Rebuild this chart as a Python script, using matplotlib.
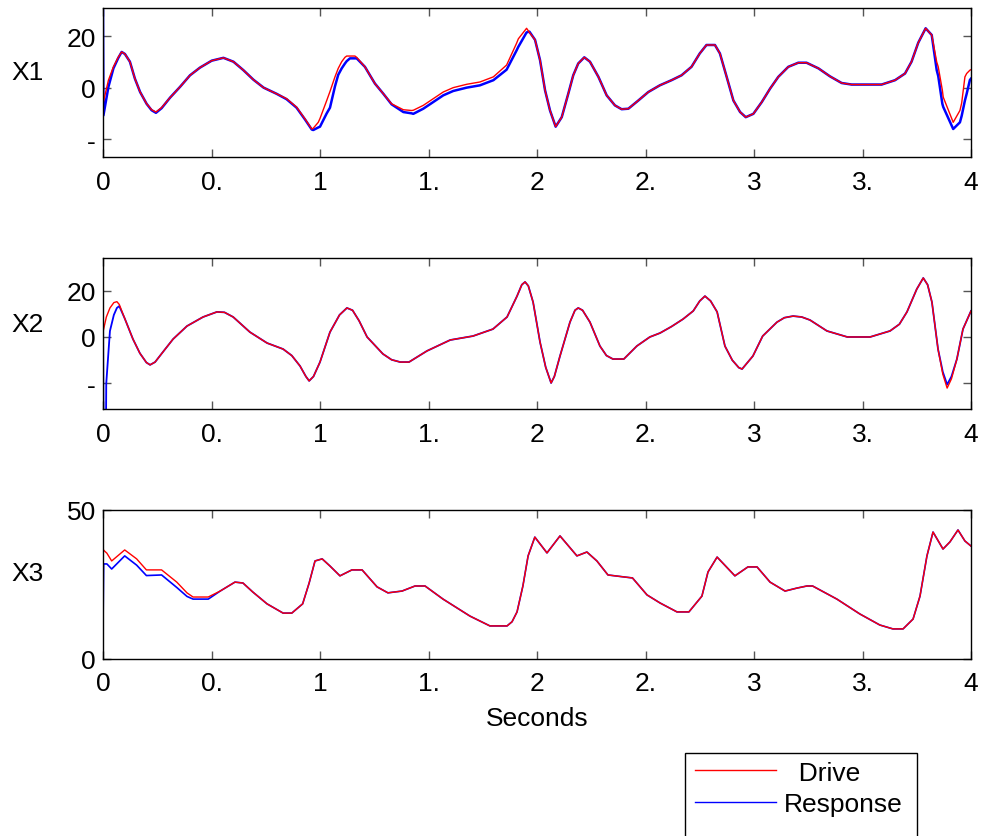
import matplotlib
matplotlib.use('Agg')
import matplotlib.pyplot as plt
from matplotlib.patches import Rectangle
from matplotlib.lines import Line2D

plt.rcParams['font.family'] = ['Liberation Sans', 'DejaVu Sans']
plt.rcParams['font.size'] = 19

# X1 : drive (red) y respuesta (blue)
t1 = [0, 0.002, 0.025, 0.048, 0.07, 0.086, 0.101, 0.124, 0.147, 0.171, 0.201,
      0.224, 0.244, 0.27, 0.309, 0.355, 0.401, 0.447, 0.501, 0.555, 0.601,
      0.647, 0.693, 0.74, 0.8, 0.846, 0.892, 0.931, 0.962, 0.969, 0.992, 1.0,
      1.031, 1.046, 1.069, 1.084, 1.1, 1.115, 1.123, 1.138, 1.161, 1.169,
      1.207, 1.253, 1.292, 1.33, 1.384, 1.422, 1.43, 1.476, 1.522, 1.568,
      1.614, 1.676, 1.737, 1.799, 1.86, 1.906, 1.914, 1.952, 1.965, 1.991,
      2.014, 2.037, 2.06, 2.086, 2.114, 2.144, 2.167, 2.19, 2.218, 2.244,
      2.283, 2.321, 2.359, 2.39, 2.421, 2.467, 2.513, 2.566, 2.62, 2.666,
      2.712, 2.75, 2.781, 2.82, 2.843, 2.874, 2.905, 2.936, 2.962, 2.997,
      3.036, 3.074, 3.112, 3.158, 3.204, 3.242, 3.297, 3.35, 3.404, 3.45,
      3.588, 3.65, 3.696, 3.726, 3.757, 3.791, 3.819, 3.842, 3.849, 3.868,
      3.872, 3.918, 3.949, 3.957, 3.972, 3.98, 3.995, 4.0]
x1_drive = [-6, -5.5, 2.9, 8.1, 11.8, 13.9, 13.1, 10.1, 3.5, -1.7, -6.3,
            -8.6, -9.5, -7.8, -3.9, 0.3, 4.8, 7.8, 10.5, 11.6, 10.1,
            6.8, 3.1, 0, -2.4, -4.3, -7.6, -12.2, -16.1, -15.8, -13.5, -12,
            -5, -1.5, 4.2, 7.5, 10.1, 11.8, 12.3, 12.3, 12.3, 11.8,
            8.1, 1.6, -2.4, -6.3, -8.6, -8.9, -8.8, -6.9, -4.3, -1.7,
            0, 1.3, 2.2, 4.2, 8.8, 17.3, 19, 23.1, 21.5, 18.6,
            10.7, -1, -8.9, -15.2, -11.5, -2.4, 4.8, 9.4, 11.8, 10.1,
            4.2, -3, -6.9, -8.4, -8.2, -5, -1.7, 0.9, 2.9, 4.8,
            8.1, 13.3, 16.6, 16.6, 13.3, 4.2, -5, -9.5, -11.5, -10.2,
            -5.6, -0.4, 4.2, 8.1, 9.7, 9.7, 7.5, 4.4, 1.8, 1.2,
            1.2, 2.9, 5.5, 10.1, 17.5, 23.1, 20.5, 10, 8.1, -1,
            -3.7, -13.5, -8.9, -6, 4.2, 5.5, 6.8, 7.0]
x1_resp = [30, -10.8, 0.3, 7.5, 11.5, 13.9, 13.1, 10.1, 3.5, -1.7, -6.3,
           -8.8, -9.8, -8.0, -3.9, 0.3, 4.8, 7.8, 10.5, 11.6, 10.1,
           6.8, 3.1, 0, -2.4, -4.5, -7.8, -12.4, -16.3, -16.5, -15.5, -15.2,
           -10, -7.8, 0.5, 5, 7.5, 9.4, 10.3, 11.4, 11.4, 11.4,
           8.1, 1.6, -2.4, -6.5, -9.5, -10.0, -10.2, -8.2, -5.6, -3.0,
           -1.3, 0, 0.9, 2.9, 7.0, 14.5, 15.9, 21.5, 21.8, 18.6,
           10.7, -1, -8.9, -15.2, -11.5, -2.4, 4.8, 9.4, 11.8, 10.1,
           4.2, -3, -6.9, -8.4, -8.2, -5, -1.7, 0.9, 2.9, 4.8,
           8.1, 13.3, 16.6, 16.6, 13.3, 4.2, -5, -9.5, -11.5, -10.2,
           -5.6, -0.4, 4.2, 8.1, 9.7, 9.7, 7.5, 4.4, 1.8, 1.2,
           1.2, 2.9, 5.5, 10.1, 17.5, 23.1, 20.5, 6.8, 4.5, -6.3,
           -7.5, -16.1, -13.5, -11, -5, -2.4, 3.0, 3.5]

# X2
t2 = [0, 0.002, 0.014, 0.015, 0.032, 0.05, 0.064, 0.075, 0.1, 0.138, 0.17,
      0.2, 0.217, 0.24, 0.28, 0.323, 0.387, 0.461, 0.525, 0.56, 0.6, 0.677,
      0.756, 0.83, 0.87, 0.908, 0.935, 0.95, 0.97, 1.0, 1.046, 1.09, 1.124,
      1.15, 1.18, 1.217, 1.29, 1.33, 1.37, 1.41, 1.493, 1.6, 1.705, 1.797,
      1.862, 1.908, 1.93, 1.945, 1.96, 1.982, 2.014, 2.04, 2.065, 2.08, 2.106,
      2.152, 2.175, 2.19, 2.21, 2.244, 2.29, 2.32, 2.35, 2.40, 2.46, 2.52,
      2.567, 2.62, 2.673, 2.72, 2.75, 2.774, 2.8, 2.83, 2.866, 2.9, 2.93,
      2.945, 2.995, 3.04, 3.106, 3.14, 3.18, 3.22, 3.258, 3.336, 3.43, 3.535,
      3.627, 3.67, 3.705, 3.75, 3.78, 3.8, 3.82, 3.848, 3.87, 3.89, 3.91,
      3.935, 3.963, 4.0]
x2_drive = [2.1, 3, 8, 8.5, 12.5, 14.8, 15.2, 14, 8, -0.9, -7,
            -11, -12, -10.8, -6, -0.9, 4.7, 8.6, 10.8, 10.6, 8.6, 2.1,
            -2.6, -5.2, -8, -12.5, -17, -18.9, -17, -10.8, 2.1, 9.5, 12.5,
            11.5, 7, 0, -7.3, -9.8, -10.8, -10.8, -6, -1.3, 0.4, 3.4,
            8.6, 17.6, 22.5, 23.7, 22, 15, -2.2, -13, -19.8, -17, -8.2,
            6.4, 11.5, 12.5, 11.5, 6.4, -3.9, -8, -9.5, -9.5, -3.9, 0,
            1.7, 4.5, 7.7, 11.2, 15.5, 17.6, 15.5, 10.8, -3.9, -10, -13.2,
            -13.8, -8.2, 0.4, 6.4, 8.3, 9.0, 8.6, 7.3, 2.6, 0, 0,
            2.6, 5.5, 10.8, 20.6, 25.4, 22.5, 15, -5.2, -16, -22, -18,
            -9.5, 3.4, 11.2]
x2_resp = [19.4, -35, -35, -20, 2.6, 9.5, 12.5, 13.3, 8, -0.9, -7,
           -11, -12, -10.8, -6, -0.9, 4.7, 8.6, 10.8, 10.6, 8.6, 2.1,
           -2.6, -5.2, -8, -12.5, -17, -18.9, -17, -10.8, 2.1, 9.5, 12.5,
           11.5, 7, 0, -7.3, -9.8, -10.8, -10.8, -6, -1.3, 0.4, 3.4,
           8.6, 17.6, 22.5, 23.7, 22, 15, -2.2, -13, -19.8, -17, -8.2,
           6.4, 11.5, 12.5, 11.5, 6.4, -3.9, -8, -9.5, -9.5, -3.9, 0,
           1.7, 4.5, 7.7, 11.2, 15.5, 17.6, 15.5, 10.8, -3.9, -10, -13.2,
           -13.8, -8.2, 0.4, 6.4, 8.3, 9.0, 8.6, 7.3, 2.6, 0, 0,
           2.6, 5.5, 10.8, 20.6, 25.4, 22.5, 15, -5.2, -15, -20.5, -17,
           -9.5, 3.4, 11.2]

# X3
t3 = [0, 0.003, 0.018, 0.04, 0.1, 0.155, 0.2, 0.27, 0.34, 0.387, 0.415, 0.485,
      0.54, 0.608, 0.645, 0.69, 0.756, 0.83, 0.87, 0.92, 0.95, 0.977, 1.01,
      1.046, 1.092, 1.147, 1.194, 1.263, 1.313, 1.378, 1.438, 1.484, 1.567,
      1.691, 1.783, 1.862, 1.885, 1.908, 1.935, 1.959, 1.99, 2.046, 2.106,
      2.184, 2.23, 2.276, 2.327, 2.405, 2.44, 2.507, 2.567, 2.645, 2.7, 2.76,
      2.788, 2.83, 2.912, 2.972, 3.014, 3.074, 3.143, 3.198, 3.244, 3.27,
      3.382, 3.488, 3.58, 3.64, 3.687, 3.733, 3.765, 3.797, 3.825, 3.871,
      3.903, 3.94, 3.972, 4.0]
x3_drive = [37.2, 36.5, 35.5, 32.9, 36.6, 33.6, 29.9, 29.9, 25.8, 22.2, 20.8, 20.8,
            22.8, 25.8, 25.5, 22.5, 18.5, 15.4, 15.4, 18.5, 25.5, 32.9, 33.6,
            31.2, 27.9, 29.9, 29.9, 24.2, 22.2, 22.8, 24.5, 24.5, 20.1,
            14.4, 11.1, 11.1, 12.5, 15.8, 24.5, 34.6, 40.9, 35.6, 41.3,
            34.6, 35.9, 32.9, 28.2, 27.5, 27.2, 21.5, 18.8, 15.8, 15.8, 21.1,
            29.2, 34.2, 27.9, 30.9, 30.9, 25.8, 22.8, 23.8, 24.5, 24.5,
            20.1, 15.1, 11.4, 10.1, 10.1, 13.4, 21.1, 34.6, 42.6, 36.9,
            39.3, 43.3, 39.6, 37.9]
x3_resp = [10, 31.9, 31.9, 30.2, 34.6, 31.5, 28.0, 28.2, 24.0, 21.0, 20.1, 20.1,
           22.8, 25.8, 25.5, 22.5, 18.5, 15.4, 15.4, 18.5, 25.5, 32.9, 33.6,
           31.2, 27.9, 29.9, 29.9, 24.2, 22.2, 22.8, 24.5, 24.5, 20.1,
           14.4, 11.1, 11.1, 12.5, 15.8, 24.5, 34.6, 40.9, 35.6, 41.3,
           34.6, 35.9, 32.9, 28.2, 27.5, 27.2, 21.5, 18.8, 15.8, 15.8, 21.1,
           29.2, 34.2, 27.9, 30.9, 30.9, 25.8, 22.8, 23.8, 24.5, 24.5,
           20.1, 15.1, 11.4, 10.1, 10.1, 13.4, 21.1, 34.6, 42.6, 36.9,
           39.3, 43.3, 39.6, 37.9]

xticks = [0, 0.5, 1, 1.5, 2, 2.5, 3, 3.5, 4]
xtick_labels = ['0', '0.', '1', '1.', '2', '2.', '3', '3.', '4']
yticks12 = [-20, 0, 20]
ytick_labels12 = ['-', '0', '20']
yticks3 = [0, 50]
ytick_labels3 = ['0', '50']

fig = plt.figure(figsize=(9.83, 8.37), dpi=100)
W, H = 983, 837

def crear_ejes(top, bottom):
    return fig.add_axes([103 / W, 1 - bottom / H, 868 / W, (bottom - top) / H])

ax1 = crear_ejes(9, 158)
ax2 = crear_ejes(259, 410)
ax3 = crear_ejes(511, 660)

datos = [(ax1, t1, x1_drive, x1_resp, 1.8, (-27, 31), yticks12, ytick_labels12, 'X1', 0.57),
         (ax2, t2, x2_drive, x2_resp, 1.3, (-31, 34), yticks12, ytick_labels12, 'X2', 0.56),
         (ax3, t3, x3_drive, x3_resp, 1.2, (0, 50), yticks3, ytick_labels3, 'X3', 0.58)]

for ax, t, drive, resp, lw_b, ylim, yt, ytl, nombre, ypos in datos:
    ax.plot(t, resp, color='#0000ff', lw=lw_b)
    ax.plot(t, drive, color='#ff0000', lw=1.0)
    ax.set_xlim(0, 4)
    ax.set_ylim(*ylim)
    ax.set_xticks(xticks)
    ax.set_xticklabels(xtick_labels)
    ax.set_yticks(yt)
    ax.set_yticklabels(ytl)
    ax.tick_params(direction='in', top=True, right=True, length=6, width=1,
                   color='#555555', labelsize=19)
    ax.tick_params(axis='x', pad=9)
    ax.tick_params(axis='y', pad=5)
    for s in ax.spines.values():
        s.set_linewidth(1.0)
        s.set_color('black')
    ax.set_ylabel(nombre, rotation=0, fontsize=19, ha='center', va='center')
    ax.yaxis.set_label_coords(-0.0865, ypos)

ax3.set_xlabel('Seconds', fontsize=19, labelpad=7.5)

# Leyenda (recortada por abajo como en el original)
marco = Rectangle((685 / W, -0.05), (917 - 685) / W, (837 - 754) / H + 0.05,
                  transform=fig.transFigure, fill=False, edgecolor='black', lw=1.0)
fig.patches.append(marco)
handles = [Line2D([], [], color='#ff0000', lw=1.0),
           Line2D([], [], color='#0000ff', lw=1.0)]
fig.legend(handles, ['  Drive', 'Response'], loc='upper left',
           bbox_to_anchor=(692 / W, 1 - 759 / H), frameon=False,
           handlelength=3.1, handletextpad=0.27, labelspacing=0.28,
           borderpad=0.1, borderaxespad=0, fontsize=19)

fig.savefig('out.png', dpi=100)
